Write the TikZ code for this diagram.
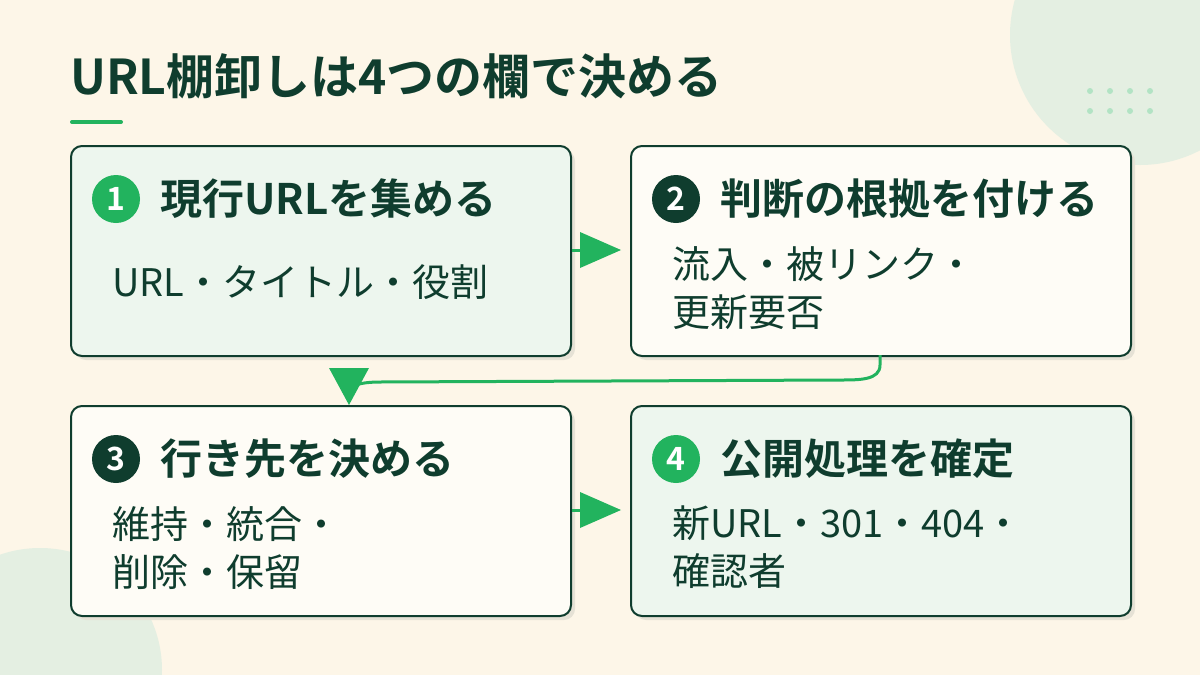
\documentclass[tikz,border=0pt]{standalone}
\usepackage{fontspec}
\setmainfont{Noto Sans CJK JP}
\newfontfamily\jpb{Noto Sans CJK JP}[BoldFont={* Bold}]
\begin{document}
\definecolor{bg}{HTML}{FDF6E8}
\definecolor{deco}{HTML}{E4EFE2}
\definecolor{dotc}{HTML}{B2E3C4}
\definecolor{dk}{HTML}{0F3D2E}
\definecolor{gr}{HTML}{22B35E}
\definecolor{lg}{HTML}{EDF6EE}
\definecolor{cr}{HTML}{FEFCF6}
\definecolor{sh}{HTML}{E6E2D6}
\begin{tikzpicture}[x=1pt,y=-1pt,
  box/.style={draw=dk,line width=2pt,rounded corners=11pt,minimum width=500pt,minimum height=210pt,anchor=north west,inner sep=0pt},
  num/.style={circle,minimum size=48pt,inner sep=0pt,text=white,font=\jpb\bfseries\fontsize{32}{32}\selectfont},
  ttl/.style={anchor=west,text=dk,font=\jpb\bfseries\fontsize{42}{42}\selectfont,inner sep=0pt},
  body/.style={anchor=north west,text=dk,align=left,font=\fontsize{38}{48}\selectfont,inner sep=0pt},
  tip/.style={fill=gr,draw=none},
  ln/.style={draw=gr,line width=3pt}]
\fill[bg] (0,0) rectangle (1200,675);
\useasboundingbox (0,0) rectangle (1200,675);
\fill[deco] (1140,35) circle (130);
\fill[deco] (40,670) circle (122);
\foreach \x in {1090,1110,1130,1150}{\foreach \y in {91,111}{\fill[dotc] (\x,\y) circle (3);}}
\node[anchor=west,text=dk,font=\jpb\bfseries\fontsize{48}{48}\selectfont,inner sep=0pt] (title) at (70,76) {URL棚卸しは4つの欄で決める};
\draw[gr,line width=4pt,line cap=round] (72,122) -- (121,122);
\foreach \bx/\by in {70/145,630/145,70/405,630/405}{\fill[sh,rounded corners=11pt] (\bx+5,\by+5) rectangle ++(500,210);}
\node[box,fill=lg] (b1) at (70,145) {};
\node[box,fill=cr] (b2) at (630,145) {};
\node[box,fill=cr] (b3) at (70,405) {};
\node[box,fill=lg] (b4) at (630,405) {};
\node[num,fill=gr] (n1) at (116,199) {1};
\node[num,fill=dk] (n2) at (676,199) {2};
\node[num,fill=dk] (n3) at (116,459) {3};
\node[num,fill=gr] (n4) at (676,459) {4};
\node[ttl] (t1) at (160,199) {現行URLを集める};
\node[ttl] (t2) at (720,199) {判断の根拠を付ける};
\node[ttl] (t3) at (160,459) {行き先を決める};
\node[ttl] (t4) at (720,459) {公開処理を確定};
\node[body] (d1) at (112,264) {URL・タイトル・役割};
\node[body] (d2) at (672,246) {流入・被リンク・\\更新要否};
\node[body] (d3) at (112,506) {維持・統合・\\削除・保留};
\node[body] (d4) at (672,506) {新URL・301・404・\\確認者};
\coordinate (a1) at (590,250);
\draw[ln] (b1.east|-a1) -- (a1);
\fill[tip] (580,232) -- (621,250) -- (580,268) -- cycle;
\coordinate (a3) at (590,510);
\draw[ln] (b3.east|-a3) -- (a3);
\fill[tip] (580,492) -- (621,510) -- (580,528) -- cycle;
\coordinate (c1) at (880,355);
\coordinate (c2) at (348,392);
\draw[ln] (c1) -- (880,365) .. controls (880,380) and (860,380) .. (840,380) -- (380,382) .. controls (360,382) and (348,386) .. (c2);
\fill[tip] (329,368) -- (369,368) -- (349,405) -- cycle;
\end{tikzpicture}
\end{document}
